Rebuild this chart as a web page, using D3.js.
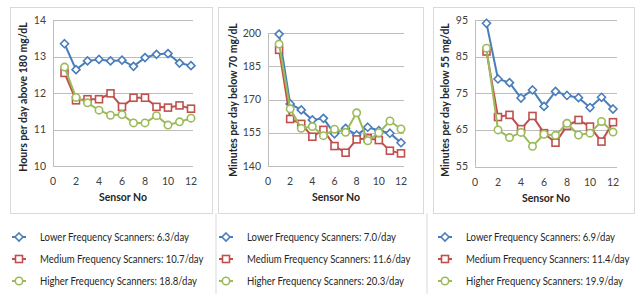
<!DOCTYPE html>
<html>
<head>
<meta charset="utf-8">
<script src="https://cdn.jsdelivr.net/npm/d3@7/dist/d3.min.js"></script>
<style>
body{margin:0;background:#fff}
text{font-family:Lato,"Liberation Sans",sans-serif}
</style>
</head>
<body>
<script>
// sensor number (x) for every series
var sensors = [1,2,3,4,5,6,7,8,9,10,11,12];

// panel 1: hours per day above 180 mg/dL
var hyperLow  = [13.35,12.64,12.88,12.92,12.88,12.90,12.73,12.97,13.06,13.08,12.82,12.75];
var hyperMed  = [12.55,11.80,11.83,11.83,11.99,11.62,11.87,11.87,11.62,11.60,11.66,11.57];
var hyperHigh = [12.71,11.88,11.73,11.53,11.39,11.41,11.18,11.18,11.38,11.12,11.21,11.31];

// panel 2: minutes per day below 70 mg/dL
var hypo70Low  = [199.5,168,165.3,160.8,161.5,154.5,157,154,157.5,156,154.8,150.5];
var hypo70Med  = [192.4,161.2,159,153.2,156.3,149,146,152,152.5,151.7,146.9,145.7];
var hypo70High = [195,165.8,157,157.8,153.7,156.6,155.2,164,151.4,155,160.3,156.7];

// panel 3: minutes per day below 55 mg/dL
var hypo55Low  = [94.1,78.9,77.9,73.7,75.9,71.4,75.5,74.4,73.8,71.1,73.9,70.7];
var hypo55Med  = [86.4,68.5,69.1,65.2,68.8,64.1,61.5,66.1,67.7,65.9,61.8,67.1];
var hypo55High = [87.3,65,62.9,64.3,60.5,63.8,63.5,66.8,63.6,64.1,67.3,64.4];

var xTicks = [0,2,4,6,8,10,12];
var yTicks1 = [10,11,12,13,14];
var yTicks2 = [140,155,170,185,200];
var yTicks3 = [55,65,75,85,95];

var yTitles = ["Hours per day above 180 mg/dL","Minutes per day below 70 mg/dL","Minutes per day below 55 mg/dL"];
var legend1 = ["Lower Frequency Scanners: 6.3/day","Medium Frequency Scanners: 10.7/day","Higher Frequency Scanners: 18.8/day"];
var legend2 = ["Lower Frequency Scanners: 7.0/day","Medium Frequency Scanners: 11.6/day","Higher Frequency Scanners: 20.3/day"];
var legend3 = ["Lower Frequency Scanners: 6.9/day","Medium Frequency Scanners: 11.4/day","Higher Frequency Scanners: 19.9/day"];

var colors = ["#4a7ebb","#c0504d","#9bbb59"];
var shapes = ["diamond","square","circle"];

var svg = d3.select("body").append("svg")
    .attr("width",637).attr("height",294);

// layout of the three panels (box, plot area, legend)
var panels = [
  {box:[10,7,212,213], x0:53, x12:191, gridEnd:193, yTop:20, yBot:166,
   ticks:yTicks1, series:[hyperLow,hyperMed,hyperHigh], title:yTitles[0], titleX:27, titleY:97,
   legend:legend1, legX:19},
  {box:[218,7,423,213], x0:268, x12:401, gridEnd:404, yTop:33, yBot:166,
   ticks:yTicks2, series:[hypo70Low,hypo70Med,hypo70High], title:yTitles[1], titleX:237, titleY:100,
   legend:legend2, legX:226},
  {box:[433,7,634,213], x0:475, x12:613, gridEnd:617, yTop:20, yBot:166.5,
   ticks:yTicks3, series:[hypo55Low,hypo55Med,hypo55High], title:yTitles[2], titleX:449, titleY:100,
   legend:legend3, legX:445}
];

// legend separators
[216,427].forEach(function(x){
  svg.append("line").attr("x1",x).attr("x2",x).attr("y1",213).attr("y2",294)
    .style("stroke","#d9d9d9");
});

function marker(g, shape, color){
  if(shape=="diamond"){
    g.append("path").attr("d","M0,-4L4,0L0,4L-4,0Z");
  }else if(shape=="square"){
    g.append("rect").attr("x",-3.5).attr("y",-3.5).attr("width",7).attr("height",7);
  }else{
    g.append("circle").attr("r",3.7);
  }
  g.selectAll("*").style("fill","#fff").style("stroke",color).style("stroke-width",1.6);
}

panels.forEach(function(p){
  var b = p.box;
  svg.append("rect")
    .attr("x",b[0]+0.5).attr("y",b[1]+0.5)
    .attr("width",b[2]-b[0]).attr("height",b[3]-b[1])
    .style("fill","#fff").style("stroke","#d9d9d9");

  var x = d3.scaleLinear().domain([0,12]).range([p.x0,p.x12]);
  var y = d3.scaleLinear().domain(d3.extent(p.ticks)).range([p.yBot,p.yTop]);
  var g = svg.append("g");

  // gridlines
  g.selectAll(".grid").data(p.ticks).enter().append("line")
    .attr("x1",p.x0).attr("x2",p.gridEnd)
    .attr("y1",function(d){return Math.round(y(d))+0.5})
    .attr("y2",function(d){return Math.round(y(d))+0.5})
    .style("stroke","#bdbdbd");
  // y axis line
  g.append("line").attr("x1",p.x0+0.5).attr("x2",p.x0+0.5)
    .attr("y1",p.yTop).attr("y2",p.yBot)
    .style("stroke","#bdbdbd");

  // tick labels
  g.selectAll(".yl").data(p.ticks).enter().append("text")
    .attr("x",p.x0-7).attr("y",function(d){return y(d)+3.5})
    .attr("text-anchor","end").style("font-size","10.5px").style("fill","#404040")
    .text(function(d){return d});
  g.selectAll(".xl").data(xTicks).enter().append("text")
    .attr("x",function(d){return x(d)}).attr("y",p.yBot+19)
    .attr("text-anchor","middle").style("font-size","10.5px").style("fill","#404040")
    .text(function(d){return d});

  // axis titles
  g.append("text").attr("x",(p.x0+p.gridEnd)/2).attr("y",p.yBot+35)
    .attr("text-anchor","middle").style("font-size","10.5px").style("font-weight","bold")
    .style("fill","#262626").text("Sensor No");
  g.append("text")
    .attr("transform","translate("+p.titleX+","+p.titleY+") rotate(-90)")
    .attr("text-anchor","middle").style("font-size","10.5px").style("font-weight","bold")
    .style("fill","#262626").text(p.title);

  // series
  var line = d3.line().x(function(d,i){return x(sensors[i])}).y(function(d){return y(d)});
  p.series.forEach(function(s,k){
    g.append("path").datum(s).attr("d",line)
      .style("fill","none").style("stroke",colors[k]).style("stroke-width",2);
    s.forEach(function(v,i){
      var m = g.append("g").attr("transform","translate("+x(sensors[i])+","+y(v)+")");
      marker(m,shapes[k],colors[k]);
    });
  });

  // legend (text squeezed a bit to look like the narrow original font)
  p.legend.forEach(function(t,k){
    var ly = 237 + k*22;
    svg.append("line").attr("x1",p.legX-7).attr("x2",p.legX+7)
      .attr("y1",ly).attr("y2",ly).style("stroke",colors[k]).style("stroke-width",2);
    var m = svg.append("g").attr("transform","translate("+p.legX+","+ly+")");
    marker(m,shapes[k],colors[k]);
    svg.append("text")
      .attr("transform","translate("+(p.legX+21)+","+(ly+4)+") scale(0.87,1)")
      .style("font-size","11px").style("fill","#262626").text(t);
  });
});
</script>
</body>
</html>
